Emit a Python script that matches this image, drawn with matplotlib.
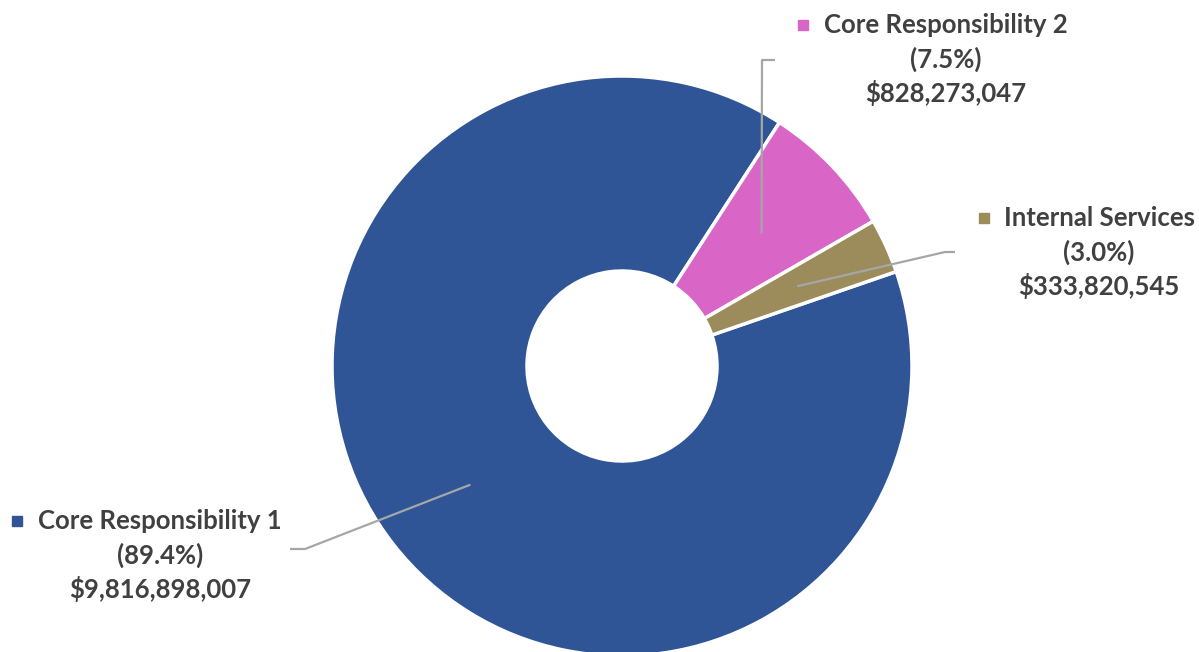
import numpy as np
import matplotlib.pyplot as plt

# ----- data -----
categories = ["Core Responsibility 1", "Core Responsibility 2", "Internal Services"]
amounts = [9816898007, 828273047, 333820545]
colors = ["#2F5597", "#D966C6", "#9C8C5C"]

text_color = "#404040"
line_color = "#A6A6A6"

W, H = 1199, 652
fig = plt.figure(figsize=(W / 100, H / 100), dpi=100)
ax = fig.add_axes([0, 0, 1, 1])

# donut geometry (pixels, y measured from bottom)
cx, cy = 622, H - 366
r_out, r_in = 290, 95
first_slice_angle = 71  # degrees clockwise from 12 o'clock
start = 90 - first_slice_angle

ax.pie(amounts, colors=colors, startangle=start, counterclock=False,
       center=(cx, cy), radius=r_out, frame=True,
       wedgeprops=dict(width=r_out - r_in, edgecolor="white", linewidth=2.5))
ax.set_xlim(0, W)
ax.set_ylim(0, H)
ax.set_aspect("equal")
ax.axis("off")

total = sum(amounts)
shares = [a / total * 100 for a in amounts]

# label layout: (text center x, first line y, marker x, leader elbow points)
layout = [
    (160, 521, 17, [(305, 549), (290, 549)]),
    (946, 25, 803, [(762, 60), (775, 60)]),
    (1099, 218, 984, [(945, 252), (955, 252)]),
]

cum = 0.0
line_gap = 34
for name, amt, sh, col, (tx, ty, mx, elbow) in zip(categories, amounts, shares, colors, layout):
    mid = start - (cum + sh / 2) / 100 * 360
    cum += sh
    r_mid = (r_out + r_in) / 2
    ax_x = cx + r_mid * np.cos(np.radians(mid))
    ax_y = cy + r_mid * np.sin(np.radians(mid))
    xs = [ax_x] + [p[0] for p in elbow]
    ys = [ax_y] + [H - p[1] for p in elbow]
    ax.plot(xs, ys, color=line_color, lw=1.6, solid_capstyle="butt")

    lines = [name, f"({sh:.1f}%)", f"${amt:,}"]
    for i, s in enumerate(lines):
        ax.text(tx, H - (ty + i * line_gap), s, ha="center", va="center",
                fontsize=18.5, fontweight="bold", family="Lato", color=text_color)
    ax.plot([mx], [H - ty], marker="s", markersize=7, color=col, linestyle="none")

fig.savefig("out.png", dpi=100, facecolor="white")
